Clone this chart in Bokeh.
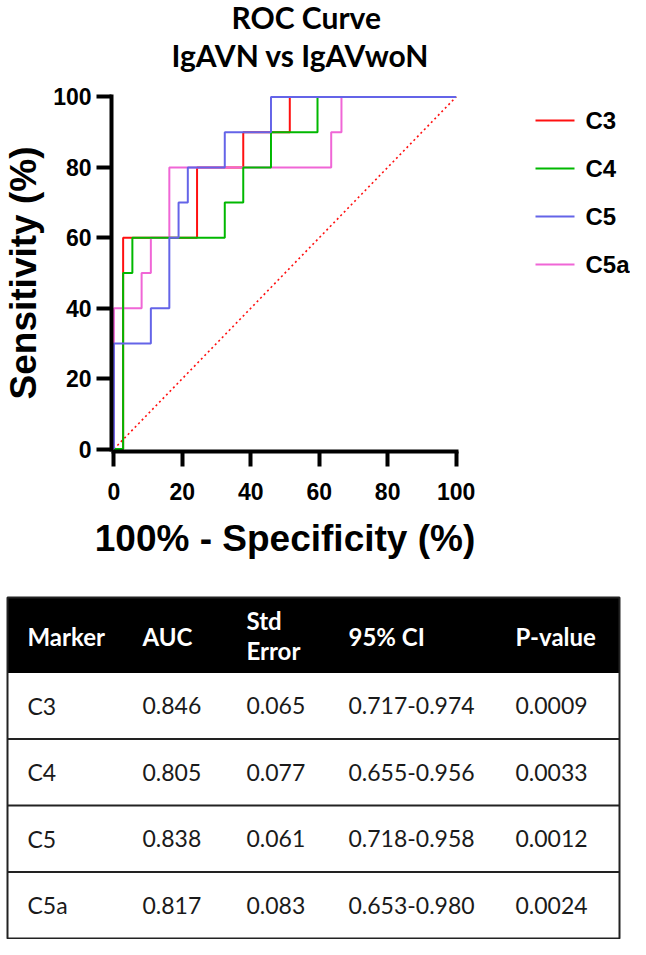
from bokeh.plotting import figure
from bokeh.models import Range1d, Title, FixedTicker
from bokeh.layouts import row
from bokeh.embed import file_html
from bokeh.resources import INLINE
from bokeh.core.properties import value

# ---------------- data ----------------
series_names = ["C3", "C4", "C5", "C5a"]
series_colors = ["#FF1010", "#00B800", "#6464E8", "#F066D6"]

c3_x = [0, 2.7, 2.7, 24.3, 24.3, 37.8, 37.8, 51.4, 51.4, 100]
c3_y = [0, 0, 60, 60, 80, 80, 90, 90, 100, 100]

c4_x = [0, 2.7, 2.7, 5.4, 5.4, 32.4, 32.4, 37.8, 37.8, 45.9, 45.9, 59.5, 59.5, 100]
c4_y = [0, 0, 50, 50, 60, 60, 70, 70, 80, 80, 90, 90, 100, 100]

c5_x = [0, 0, 10.8, 10.8, 16.2, 16.2, 18.9, 18.9, 21.6, 21.6, 32.4, 32.4, 45.9, 45.9, 100]
c5_y = [0, 30, 30, 40, 40, 60, 60, 70, 70, 80, 80, 90, 90, 100, 100]

c5a_x = [0, 0, 8.1, 8.1, 10.8, 10.8, 16.2, 16.2, 63.5, 63.5, 66.5, 66.5, 100]
c5a_y = [0, 40, 40, 50, 50, 60, 60, 80, 80, 90, 90, 100, 100]

diag_x = [0, 100]
diag_y = [0, 100]

ticks = [0, 20, 40, 60, 80, 100]

title_lines = ["ROC Curve", "IgAVN vs IgAVwoN"]
table_headers = ["Marker", "AUC", "Std\nError", "95% CI", "P-value"]
markers = ["C3", "C4", "C5", "C5a"]
auc = ["0.846", "0.805", "0.838", "0.817"]
std_err = ["0.065", "0.077", "0.061", "0.083"]
ci95 = ["0.717-0.974", "0.655-0.956", "0.718-0.958", "0.653-0.980"]
p_value = ["0.0009", "0.0033", "0.0012", "0.0024"]

# ---------------- ROC figure ----------------
FRAME_TOP, FRAME_BOTTOM = 102, 459
p = figure(width=480, height=598, title=None,
           x_range=Range1d(-0.7, 100.7), y_range=Range1d(-0.7, 100.7),
           output_backend="svg", toolbar_location=None,
           min_border_left=101, min_border_right=22,
           min_border_top=FRAME_TOP, min_border_bottom=598 - FRAME_BOTTOM)
p.outline_line_color = None
p.grid.visible = False

for ax in (p.xaxis[0], p.yaxis[0]):
    ax.ticker = FixedTicker(ticks=ticks)
    ax.axis_line_width = 4
    ax.axis_line_color = "black"
    ax.major_tick_line_width = 4
    ax.major_tick_line_color = "black"
    ax.major_tick_out = 15
    ax.major_tick_in = 0
    ax.minor_tick_line_color = None
    ax.major_label_text_font = "Liberation Sans"
    ax.major_label_text_font_style = "bold"
    ax.major_label_text_font_size = "23px"
    ax.major_label_text_color = "black"
    ax.axis_label_text_font = "Liberation Sans"
    ax.axis_label_text_font_style = "bold"
    ax.axis_label_text_color = "black"
    ax.axis_label_text_font_size = "37px"

p.xaxis[0].axis_label = "100% - Specificity (%)"
p.yaxis[0].axis_label = "Sensitivity (%)"
p.xaxis[0].major_label_standoff = 16
p.yaxis[0].major_label_standoff = 5
p.xaxis[0].axis_label_standoff = 15
p.yaxis[0].axis_label_standoff = 6

p.line(diag_x, diag_y, line_color="#FF1010", line_width=1.6, line_dash="2 3")

series_xy = {"C3": (c3_x, c3_y), "C4": (c4_x, c4_y), "C5": (c5_x, c5_y), "C5a": (c5a_x, c5a_y)}
for name in ["C3", "C5a", "C4", "C5"]:
    xs, ys = series_xy[name]
    col = series_colors[series_names.index(name)]
    p.line(xs, ys, line_color=col, line_width=2)

# titles: a thin spacer next to the frame, then the two title lines
spacer = Title(text=" ", text_font_size="2px", standoff=16)
t_sub = Title(text=title_lines[1], align="left", offset=60, standoff=0, vertical_align="top",
              text_font="Lato", text_font_style="bold", text_font_size="30px", text_color="black")
t_main = Title(text=title_lines[0], align="left", offset=120, standoff=0, vertical_align="top",
               text_font="Lato", text_font_style="bold", text_font_size="30px", text_color="black")
p.add_layout(spacer, "above")
p.add_layout(t_sub, "above")
p.add_layout(t_main, "above")

# ---------------- legend panel (to the right of the plot) ----------------
# the row aligns this panel's frame with the ROC frame, so its y range spans that frame
LEG_X0, LEG_X1, LEG_TX = 543, 582, 593
LEG_Y0, LEG_STEP = 128, 48

lf = figure(width=150, height=598, x_range=Range1d(488, 638),
            y_range=Range1d(FRAME_BOTTOM, FRAME_TOP),
            output_backend="svg", toolbar_location=None, min_border=0, title=None)
lf.axis.visible = False
lf.grid.visible = False
lf.outline_line_color = None
leg_y = [LEG_Y0 + LEG_STEP * i for i in range(len(series_names))]
lf.segment(x0=[LEG_X0] * len(leg_y), x1=[LEG_X1] * len(leg_y), y0=leg_y, y1=leg_y,
           line_color=series_colors, line_width=2)
lf.text(x=[LEG_TX] * len(leg_y), y=leg_y, text=series_names,
        text_font=value("Liberation Sans"), text_font_style="bold", text_font_size="24px",
        text_color="black", text_baseline="middle", text_align="left")

top_row = row(p, lf, spacing=0, margin=(-8, 0, 0, 0))

# ---------------- table figure ----------------
T_TOP, T_LEFT, T_RIGHT = 605, 15, 627
HEAD_H, ROW_H = 75, 66.5
col_x = [35, 150, 254, 356, 523]

t = figure(width=630, height=349, x_range=Range1d(8, 638), y_range=Range1d(947, 598),
           output_backend="svg", toolbar_location=None, min_border=0, title=None)
t.axis.visible = False
t.grid.visible = False
t.outline_line_color = None

n_rows = len(markers)
t_bottom = T_TOP + HEAD_H + n_rows * ROW_H
t.quad(left=[T_LEFT], right=[T_RIGHT], top=[T_TOP], bottom=[T_TOP + HEAD_H],
       fill_color="black", line_color="black")
row_lines_y = [T_TOP + HEAD_H + ROW_H * i for i in range(1, n_rows)]
t.segment(x0=[T_LEFT] * len(row_lines_y), x1=[T_RIGHT] * len(row_lines_y),
          y0=row_lines_y, y1=row_lines_y, line_color="#222222", line_width=2)
t.quad(left=[T_LEFT], right=[T_RIGHT], top=[T_TOP], bottom=[t_bottom],
       fill_color=None, line_color="#222222", line_width=2)

hx, hy, ht = [], [], []
head_mid = T_TOP + HEAD_H / 2
for i, h in enumerate(table_headers):
    parts = h.split("\n")
    if len(parts) == 1:
        hx.append(col_x[i]); hy.append(head_mid + 1); ht.append(h)
    else:
        hx += [col_x[i], col_x[i]]; hy += [head_mid - 15, head_mid + 15]; ht += parts
t.text(x=hx, y=hy, text=ht, text_font=value("Lato"), text_font_style="bold",
       text_font_size="24px", text_color="white", text_baseline="middle", text_align="left")

bx, by, bt = [], [], []
for r in range(n_rows):
    yc = T_TOP + HEAD_H + ROW_H * r + ROW_H / 2
    for c, colvals in enumerate([markers, auc, std_err, ci95, p_value]):
        bx.append(col_x[c]); by.append(yc); bt.append(colvals[r])
t.text(x=bx, y=by, text=bt, text_font=value("Lato"), text_font_size="23px",
       text_color="#1a1a1a", text_baseline="middle", text_align="left")

open("out.html", "w").write(file_html([top_row, t], INLINE))
